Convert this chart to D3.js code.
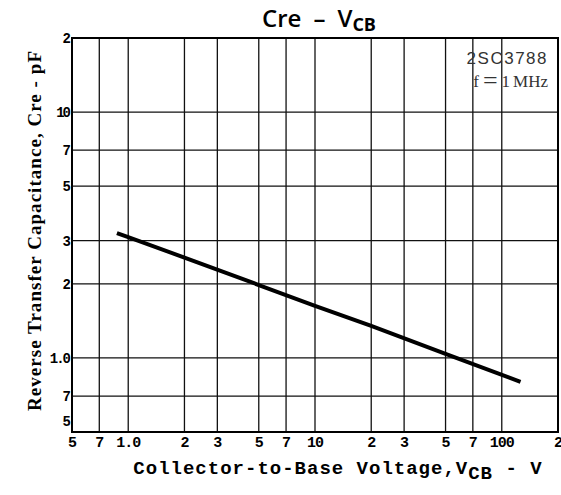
<!DOCTYPE html>
<html>
<head>
<meta charset="utf-8">
<script src="https://cdn.jsdelivr.net/npm/d3@7/dist/d3.min.js"></script>
<style>
  body { margin: 0; background: #fff; }
  svg { display: block; }
</style>
</head>
<body>
<div id="chart"></div>
<script>
// Cre - VCB curve (V, pF)
const vcb = [0.87, 1, 2, 5, 10, 20, 50, 126];
const cre = [3.22, 3.10, 2.56, 1.98, 1.63, 1.35, 1.04, 0.80];

const xGrid = [0.7, 1, 2, 3, 5, 7, 10, 20, 30, 50, 70, 100];
const yGrid = [0.7, 1, 2, 3, 5, 7, 10];
const xTicks = [0.5, 0.7, 1, 2, 3, 5, 7, 10, 20, 30, 50, 70, 100, 200];
const xTickLabels = ["5", "7", "1.0", "2", "3", "5", "7", "10", "2", "3", "5", "7", "100", "2"];
const yTicks = [0.5, 0.7, 1, 2, 3, 5, 7, 10, 20];
const yTickLabels = ["5", "7", "1.0", "2", "3", "5", "7", "10", "2"];

const width = 561, height = 495;
const plotL = 72, plotR = 558, plotT = 38, plotB = 432;

const svg = d3.select("#chart").append("svg")
    .attr("width", width)
    .attr("height", height);

const x = d3.scaleLog().domain([0.5, 200]).range([plotL, plotR]);
const y = d3.scaleLog().domain([0.5, 20]).range([plotB, plotT]);

// grid
const g = svg.append("g");
g.selectAll(".vg").data(xGrid).enter().append("line")
    .attr("x1", d => x(d)).attr("x2", d => x(d))
    .attr("y1", plotT).attr("y2", plotB)
    .style("stroke", "#111").style("stroke-width", 1.3);
g.selectAll(".hg").data(yGrid).enter().append("line")
    .attr("x1", plotL).attr("x2", plotR)
    .attr("y1", d => y(d)).attr("y2", d => y(d))
    .style("stroke", "#111").style("stroke-width", 1.3);

// frame
g.append("rect")
    .attr("x", plotL).attr("y", plotT)
    .attr("width", plotR - plotL).attr("height", plotB - plotT)
    .style("fill", "none").style("stroke", "#000").style("stroke-width", 2);

// curve
const line = d3.line().x((d, i) => x(vcb[i])).y(d => y(d));
svg.append("path")
    .datum(cre)
    .attr("d", line)
    .style("fill", "none")
    .style("stroke", "#000")
    .style("stroke-width", 4);

// x tick labels
svg.selectAll(".xl").data(xTicks).enter().append("text")
    .attr("x", d => x(d))
    .attr("y", plotB + 15)
    .attr("text-anchor", "middle")
    .style("font-family", "'Liberation Mono', monospace")
    .style("font-weight", "bold")
    .style("font-size", "15px")
    .style("letter-spacing", "-1px")
    .text((d, i) => xTickLabels[i]);

// y tick labels
svg.selectAll(".yl").data(yTicks).enter().append("text")
    .attr("x", plotL - 3)
    .attr("y", d => d === 0.5 ? y(d) - 6 : y(d) + 5)
    .attr("text-anchor", "end")
    .style("font-family", "'Liberation Mono', monospace")
    .style("font-weight", "bold")
    .style("font-size", "14px")
    .style("letter-spacing", "-2px")
    .text((d, i) => yTickLabels[i]);

// title
const title = svg.append("text")
    .attr("x", 319).attr("y", 27)
    .attr("text-anchor", "middle")
    .style("font-family", "'Open Sans', 'DejaVu Sans', sans-serif")
    .style("font-size", "24px")
    .style("font-weight", "600");
title.append("tspan").text("Cre\u2002\u2013\u2002V");
title.append("tspan").attr("dy", 4).style("font-size", "18px").style("font-weight", "bold").text("CB");

// annotation
svg.append("text")
    .attr("x", 548).attr("y", 64)
    .attr("text-anchor", "end")
    .style("font-family", "'Liberation Sans', sans-serif")
    .style("font-size", "17px")
    .style("letter-spacing", "1.5px")
    .style("fill", "#333")
    .text("2SC3788");
const fq = svg.append("text")
    .attr("x", 548).attr("y", 87)
    .attr("text-anchor", "end")
    .style("font-family", "'Liberation Serif', serif")
    .style("font-size", "17px")
    .style("fill", "#333");
fq.append("tspan").text("f");
fq.append("tspan").attr("dx", 4).style("font-size", "26px").style("font-weight", "300")
    .attr("dy", 2).text("=");
fq.append("tspan").attr("dx", 4).attr("dy", -2).text("1");
fq.append("tspan").attr("dx", 3).text("MHz");

// x axis title
const xt = svg.append("text")
    .attr("x", 338).attr("y", 474)
    .attr("text-anchor", "middle")
    .style("font-family", "'Liberation Mono', monospace")
    .style("font-weight", "bold")
    .style("font-size", "19px")
    .style("letter-spacing", "1px");
xt.append("tspan").text("Collector-to-Base Voltage,V");
xt.append("tspan").attr("dy", 5).text("CB");
xt.append("tspan").attr("dy", -5).text(" - V");

// y axis title
svg.append("text")
    .attr("transform", "translate(41,231) rotate(-90)")
    .attr("text-anchor", "middle")
    .attr("textLength", 360)
    .attr("lengthAdjust", "spacing")
    .style("font-family", "'Liberation Serif', serif")
    .style("font-weight", "bold")
    .style("font-size", "19px")
    .text("Reverse Transfer Capacitance, Cre - pF");
</script>
</body>
</html>
